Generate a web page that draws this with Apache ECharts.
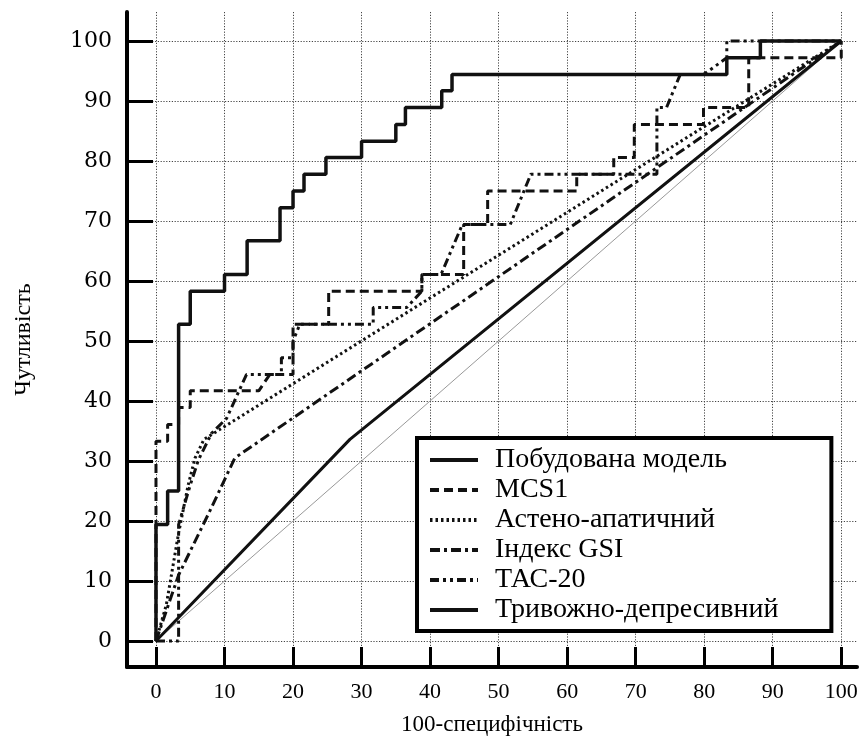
<!DOCTYPE html>
<html><head><meta charset="utf-8">
<script src="https://cdn.jsdelivr.net/npm/echarts@6/dist/echarts.min.js"></script>
<style>html,body{margin:0;padding:0;background:#fff}#c{width:863px;height:740px}</style>
</head><body><div id="c"></div>
<script>
const xTicks = [0,10,20,30,40,50,60,70,80,90,100];
const yTicks = [0,10,20,30,40,50,60,70,80,90,100];
const seriesNames = ['Побудована модель','MCS1','Астено-апатичний','Індекс GSI','ТАС-20','Тривожно-депресивний'];

const modelRoc = [[0,0],[0,19.4],[1.7,19.4],[1.7,25],[3.3,25],[3.3,52.8],[5,52.8],[5,58.3],[10,58.3],[10,61.1],[13.3,61.1],[13.3,66.7],[18.1,66.7],[18.1,72.2],[20,72.2],[20,75],[21.6,75],[21.6,77.8],[24.8,77.8],[24.8,80.6],[30,80.6],[30,83.3],[35,83.3],[35,86.1],[36.4,86.1],[36.4,88.9],[41.7,88.9],[41.7,91.7],[43.2,91.7],[43.2,94.4],[83.3,94.4],[83.3,97.2],[88.2,97.2],[88.2,100],[100,100]];
const mcs1Roc = [[0,0],[0,33.3],[1.7,33.3],[1.7,36.1],[3.3,36.1],[3.3,38.9],[5,38.9],[5,41.7],[15,41.7],[16.6,44.4],[20,44.4],[20,52.8],[25.2,52.8],[25.2,58.3],[38.8,58.3],[38.8,61.1],[44.9,61.1],[44.9,69.4],[48.4,69.4],[48.4,75],[61.4,75],[61.4,77.8],[66.8,77.8],[66.8,80.6],[69.8,80.6],[69.8,86.1],[79.9,86.1],[79.9,88.9],[86.5,88.9],[86.5,97.2],[100,97.2],[100,100]];
const asthenoRoc = [[0,0],[1.5,6],[3.3,18],[4.7,26],[5.7,30.5],[7,33.6],[100,100]];
const gsiRoc = [[0,0],[3.3,11],[8,22],[11.5,30.5],[100,100]];
const tacRoc = [[0,0],[3.3,0],[3.3,19.4],[5,26],[6.2,30.2],[8.1,34.6],[10.3,37.1],[13.2,44.4],[18.3,44.4],[18.3,47.2],[20,47.2],[20,50],[21,52.8],[31.7,52.8],[31.7,55.6],[36.6,55.6],[38.8,58.3],[38.8,61.1],[41.6,61.1],[44.7,69.4],[51.7,69.4],[54.7,77.8],[73.1,77.8],[73.1,88.9],[74.5,88.9],[76.5,94.4],[79.9,94.4],[83.3,97.2],[83.3,100],[100,100]];
const anxDepRoc = [[0,0],[28.3,33.6],[100,100]];
const refDiag = [[0,0],[100,100]];

const serif = 'Liberation Serif';
function mk(name, data, type, width) {
  return {
    name: name, type: 'line', data: data, symbol: 'none', showSymbol: false,
    animation: false, silent: true,
    itemStyle: { color: '#111', opacity: 0 },
    lineStyle: { color: '#111', width: width, type: type, cap: 'butt' }
  };
}

const chart = echarts.init(document.getElementById('c'), null, { renderer: 'canvas' });
chart.setOption({
  backgroundColor: '#fff',
  animation: false,
  grid: { left: 127, right: 6, top: 12, bottom: 73, containLabel: false, outerBoundsMode: 'none' },
  xAxis: {
    type: 'value', min: -4.23, max: 102.3,
    axisLine: { show: true, onZero: false, lineStyle: { color: '#000', width: 4 } },
    axisTick: { show: true, inside: true, length: 20, customValues: xTicks, lineStyle: { color: '#000', width: 3 } },
    axisLabel: { customValues: xTicks, fontFamily: serif, fontSize: 22, color: '#000', margin: 14 },
    splitLine: { show: true, lineStyle: { color: '#444', width: 1, type: [1.2, 1.6] } },
    name: '100-специфічність', nameLocation: 'middle', nameGap: 46,
    nameTextStyle: { fontFamily: serif, fontSize: 23, color: '#000' }
  },
  yAxis: {
    type: 'value', min: -4.33, max: 104.83,
    axisLine: { show: true, onZero: false, lineStyle: { color: '#000', width: 4 } },
    axisTick: { show: true, inside: true, length: 26, customValues: yTicks, lineStyle: { color: '#000', width: 3 } },
    axisLabel: { customValues: yTicks, fontFamily: 'DejaVu Serif', fontSize: 22, color: '#000', margin: 15 },
    splitLine: { show: true, lineStyle: { color: '#444', width: 1, type: [1.2, 1.6] } },
    name: 'Чутливість', nameLocation: 'middle', nameGap: 91, nameRotate: 90,
    nameTextStyle: { fontFamily: serif, fontSize: 24, color: '#000' }
  },
  legend: {
    data: seriesNames, orient: 'vertical', left: 417, top: 438,
    itemWidth: 48, itemHeight: 14, itemGap: 2,
    padding: [8, 53, 7, 11],
    borderColor: '#000', borderWidth: 4, backgroundColor: '#fff',
    selectedMode: false,
    itemStyle: { opacity: 0, borderWidth: 0 },
    lineStyle: { width: 4 },
    textStyle: { fontFamily: serif, fontSize: 28, color: '#000', lineHeight: 26, padding: [0, 0, 0, 12] }
  },
  series: [
    { type: 'line', data: refDiag, symbol: 'none', silent: true, animation: false, z: 1,
      lineStyle: { color: '#999', width: 1 } },
    mk(seriesNames[5], anxDepRoc, 'solid', 3),
    mk(seriesNames[3], gsiRoc, [10, 4, 3, 4], 3),
    mk(seriesNames[2], asthenoRoc, [2.5, 3], 3),
    mk(seriesNames[4], tacRoc, [9, 4, 3, 4, 3, 4], 3),
    mk(seriesNames[1], mcs1Roc, [9, 5], 3),
    mk(seriesNames[0], modelRoc, 'solid', 3.5)
  ]
});
</script></body></html>
